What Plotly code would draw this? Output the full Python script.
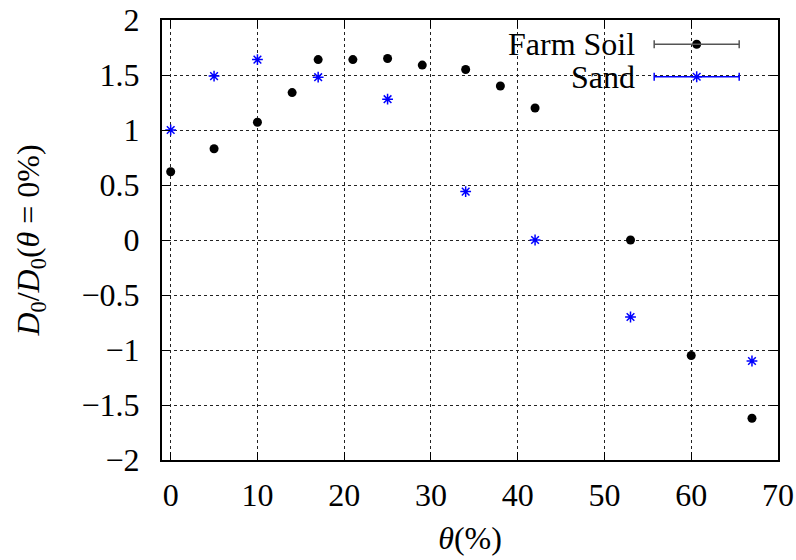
import plotly.graph_objects as go

# ---- data ----
farm_x = [0, 5, 10, 14, 17, 21, 25, 29, 34, 38, 42, 53, 60, 67]
farm_y = [0.62, 0.83, 1.07, 1.34, 1.64, 1.64, 1.65, 1.59, 1.55, 1.40, 1.20, 0.00, -1.05, -1.62]

sand_x = [0, 5, 10, 17, 25, 34, 42, 53, 67]
sand_y = [1.00, 1.49, 1.64, 1.48, 1.28, 0.44, 0.00, -0.70, -1.10]

x_ticks = [0, 10, 20, 30, 40, 50, 60, 70]
y_ticks = [2, 1.5, 1, 0.5, 0, -0.5, -1, -1.5, -2]
y_ticktext = ["2", "1.5", "1", "0.5", "0", "\u22120.5", "\u22121", "\u22121.5", "\u22122"]

legend_names = ["Farm Soil", "Sand"]

FONT = "Times New Roman, Liberation Serif, Tinos, serif"
FS = 32
BLUE = "#0000ff"

fig = go.Figure()
fig.add_trace(go.Scatter(x=farm_x, y=farm_y, mode="markers", name="Farm Soil",
                         marker=dict(symbol="circle", size=9, color="black"),
                         showlegend=False))
fig.add_trace(go.Scatter(x=sand_x, y=sand_y, mode="markers", name="Sand",
                         marker=dict(symbol="asterisk-open", size=9, color=BLUE,
                                     line=dict(color=BLUE, width=1.5)),
                         showlegend=False))

# ---- custom gnuplot-like key (overlay axes in 0..1 units) ----
leg_y = [0.945, 0.871]
bar_x0, bar_x1, mark_x, text_x = 0.799, 0.937, 0.868, 0.765
fig.add_trace(go.Scatter(x=[mark_x], y=[leg_y[0]], xaxis="x2", yaxis="y2", mode="markers",
                         marker=dict(symbol="circle", size=9, color="black"),
                         showlegend=False, hoverinfo="skip"))
fig.add_trace(go.Scatter(x=[mark_x], y=[leg_y[1]], xaxis="x2", yaxis="y2", mode="markers",
                         marker=dict(symbol="asterisk-open", size=9, color=BLUE,
                                     line=dict(color=BLUE, width=1.5)),
                         showlegend=False, hoverinfo="skip"))

shapes = [dict(type="rect", xref="paper", yref="paper", x0=0.482, x1=0.966, y0=0.836, y1=1.0,
               fillcolor="white", line=dict(width=0), layer="between")]
cap = 0.009
for yy, col in zip(leg_y, ["#555555", BLUE]):
    shapes.append(dict(type="line", xref="paper", yref="paper", x0=bar_x0, x1=bar_x1, y0=yy, y1=yy,
                       line=dict(color=col, width=1.5)))
    for xx in (bar_x0, bar_x1):
        shapes.append(dict(type="line", xref="paper", yref="paper", x0=xx, x1=xx,
                           y0=yy - cap, y1=yy + cap, line=dict(color=col, width=1.5)))

annotations = []
for name, yy in zip(legend_names, leg_y):
    annotations.append(dict(text=name, xref="paper", yref="paper", x=text_x, y=yy,
                            xanchor="right", yanchor="middle", showarrow=False, xshift=4,
                            font=dict(family=FONT, size=FS, color="black")))

axis_common = dict(showline=True, linecolor="black", linewidth=2, mirror="allticks",
                   ticks="inside", ticklen=8, tickwidth=1, tickcolor="black", automargin=False,
                   showgrid=True, gridcolor="#222222", griddash="dot", gridwidth=1,
                   zeroline=False, tickfont=dict(family=FONT, size=FS, color="black"))

fig.update_layout(
    width=796, height=560,
    margin=dict(l=162, r=18, t=20, b=100),
    paper_bgcolor="white", plot_bgcolor="white",
    font=dict(family=FONT, size=FS, color="black"),
    shapes=shapes, annotations=annotations,
    xaxis=dict(range=[-1, 70], tickvals=x_ticks, ticklabelstandoff=6,
               title=dict(text="<i>θ</i>(%)", standoff=14, font=dict(family=FONT, size=FS)),
               **axis_common),
    yaxis=dict(range=[-2, 2], tickvals=y_ticks, ticktext=y_ticktext, ticklabelstandoff=14,
               title=dict(text="<i>D</i><sub>0</sub>/<i>D</i><sub>0</sub>(<i>θ</i> = 0%)",
                          standoff=32, font=dict(family=FONT, size=FS)),
               **axis_common),
    xaxis2=dict(range=[0, 1], overlaying="x", visible=False, fixedrange=True),
    yaxis2=dict(range=[0, 1], overlaying="y", visible=False, fixedrange=True),
)

fig.write_html("out.html")
